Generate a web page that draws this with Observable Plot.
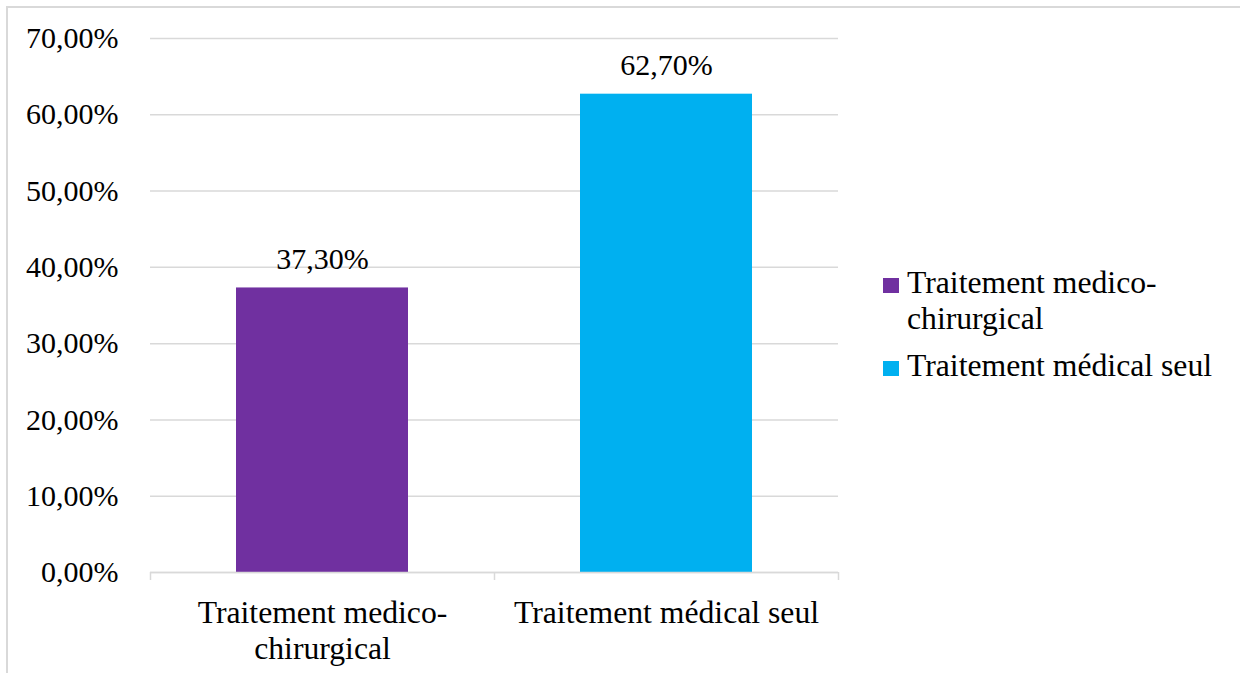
<!DOCTYPE html>
<html>
<head>
<meta charset="utf-8">
<script src="https://cdn.jsdelivr.net/npm/d3@7"></script>
<script src="https://cdn.jsdelivr.net/npm/@observablehq/plot@0.6"></script>
<style>
  html, body { margin: 0; padding: 0; background: #fff; }
  #wrap { position: relative; width: 1240px; height: 673px; overflow: hidden; font-family: "Liberation Serif", "Times New Roman", serif; }
  #border { position: absolute; left: 6px; top: 6px; width: 1300px; height: 700px; border-left: 2px solid #d9d9d9; border-top: 2px solid #d9d9d9; box-sizing: border-box; }
  #chart { position: absolute; left: 0; top: 0; }
  #legend { position: absolute; left: 883px; top: 265px; font-size: 31.7px; line-height: 36px; color: #000; }
  .item { position: relative; padding-left: 24px; white-space: nowrap; }
  .sw { position: absolute; left: 0; top: 13px; width: 16px; height: 15px; }
</style>
</head>
<body>
<div id="wrap">
  <div id="border"></div>
  <div id="chart"></div>
  <div id="legend"></div>
</div>
<script>
const categories = ["Traitement medico-chirurgical", "Traitement médical seul"];
const categoryLabels = ["Traitement medico-\nchirurgical", "Traitement médical seul"];
const values = [0.373, 0.627];
const valueLabels = ["37,30%", "62,70%"];
const colors = ["#7030A0", "#00B0F0"];
const yTicks = [0, 0.1, 0.2, 0.3, 0.4, 0.5, 0.6, 0.7];

const data = categories.map((c, i) => ({cat: c, value: values[i], label: valueLabels[i]}));

const W = 1240, H = 673;
const mL = 150, mR = 402, mT = 38, mB = 101;
const step = (W - mL - mR) / categories.length;
const fmtPct = d => (d * 100).toFixed(2).replace(".", ",") + "%";
const grid = "#d9d9d9";
const catFont = 31.7;

const chart = Plot.plot({
  width: W, height: H,
  marginLeft: mL, marginRight: mR, marginTop: mT, marginBottom: mB,
  style: {fontFamily: "'Liberation Serif', 'Times New Roman', serif", fontSize: "30px", color: "#000", background: "transparent"},
  x: {domain: categories, paddingInner: 0.5, paddingOuter: 0.25, label: null},
  y: {domain: [0, 0.7], label: null},
  color: {domain: categories, range: colors},
  marks: [
    Plot.gridY(yTicks, {stroke: grid, strokeOpacity: 1, strokeWidth: 1.5}),
    Plot.barY(data, {x: "cat", y: "value", fill: "cat"}),
    Plot.ruleY([0], {stroke: grid, strokeWidth: 1.5}),
    Plot.axisY(yTicks, {tickSize: 0, tickPadding: 32, tickFormat: fmtPct, fontSize: 30, fill: "#000"}),
    Plot.axisX({tickSize: 8, tickFormat: () => "", dx: -step / 2, stroke: grid, strokeWidth: 1.5}),
    Plot.axisX([categories[categories.length - 1]], {tickSize: 8, tickFormat: () => "", dx: step / 2, stroke: grid, strokeWidth: 1.5}),
    Plot.text(data, {x: "cat", y: 0, text: (d, i) => categoryLabels[i], lineAnchor: "top", dy: 24.5, lineHeight: 36 / catFont, fontSize: catFont, fill: "#000"}),
    Plot.text(data, {x: "cat", y: "value", text: "label", lineAnchor: "bottom", dy: -19, fontSize: 30, fill: "#000"})
  ]
});
document.getElementById("chart").appendChild(chart);

const legend = document.getElementById("legend");
categoryLabels.forEach((lab, i) => {
  const item = document.createElement("div");
  item.className = "item";
  const sw = document.createElement("span");
  sw.className = "sw";
  sw.style.background = colors[i];
  item.appendChild(sw);
  lab.split("\n").forEach((line, j) => {
    const l = document.createElement("div");
    l.textContent = line;
    item.appendChild(l);
  });
  if (i > 0) item.style.marginTop = "11px";
  legend.appendChild(item);
});
</script>
</body>
</html>
